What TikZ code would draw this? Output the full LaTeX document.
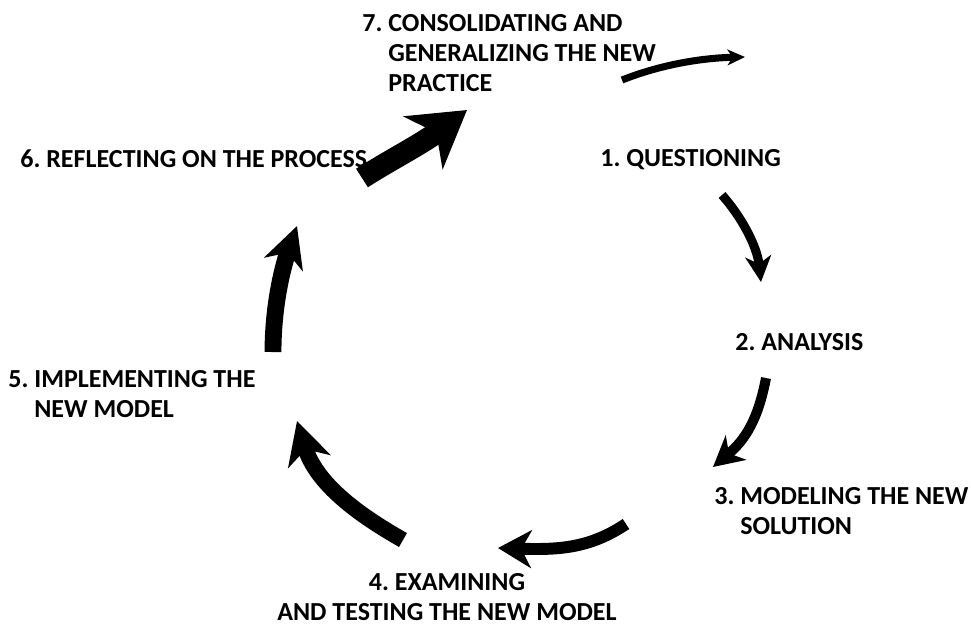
\documentclass[tikz,border=0pt]{standalone}
\usepackage{fontspec}
\setmainfont{Carlito}
\frenchspacing
\usetikzlibrary{arrows.meta}
\tikzset{
  step label/.style={anchor=base west, inner sep=0pt, align=left,
    font=\fontsize{14.8}{17}\selectfont\bfseries},
  cyc arrow/.style n args={3}{line width=#1,
    -{Stealth[length=#2,width=#3,inset=0.3*#2]}}
}
\begin{document}
\begin{tikzpicture}[x=0.02cm,y=-0.02cm]
    \useasboundingbox (0,0) rectangle (971,627);
    % steps of the cycle (base is the last line)
    \node[step label] (s7) at (362,91) {7. CONSOLIDATING AND\\\phantom{7. }GENERALIZING THE NEW\\\phantom{7. }PRACTICE};
    \node[step label] (s1) at (600,166) {1. QUESTIONING};
    \node[step label] (s2) at (735,350) {2. ANALYSIS};
    \node[step label] (s3) at (714,534) {3. MODELING THE NEW\\\phantom{3. }SOLUTION};
    \node[step label, align=center, anchor=base] (s4) at (447,620) {4. EXAMINING\\AND TESTING THE NEW MODEL};
    \node[step label] (s5) at (8,417) {5. IMPLEMENTING THE\\\phantom{5. }NEW MODEL};
    \node[step label] (s6) at (20,167) {6. REFLECTING ON THE PROCESS};
    % arrow ends
    \coordinate (a1) at (722,195);  \coordinate (b1) at (761,282);
    \coordinate (a2) at (766,378);  \coordinate (b2) at (713,467);
    \coordinate (a3) at (626,524);  \coordinate (b3) at (498,548);
    \coordinate (a4) at (403,540);  \coordinate (b4) at (297,421);
    \coordinate (a5) at (273,352);  \coordinate (b5) at (297,226);
    \coordinate (a6) at (362,178);  \coordinate (b6) at (467,110);
    \coordinate (a7) at (622,80);   \coordinate (b7) at (745,57);
    % arrows, thicker round the cycle
    \draw[cyc arrow={5.1pt}{14.7pt}{14.7pt}] (a1) .. controls (740,215) and (757,245) .. (b1);
    \draw[cyc arrow={5.7pt}{17pt}{18pt}] (a2) .. controls (758,420) and (745,440) .. (b2);
    \draw[cyc arrow={6.8pt}{19pt}{21.5pt}] (a3) .. controls (590,548) and (560,550) .. (b3);
    \draw[cyc arrow={9.1pt}{24pt}{25pt}] (a4) .. controls (350,510) and (315,480) .. (b4);
    \draw[cyc arrow={9.6pt}{23pt}{23pt}] (a5) .. controls (273,300) and (285,260) .. (b5);
    \draw[cyc arrow={12.5pt}{31pt}{37pt}] (a6) .. controls (390,160) and (420,145) .. (b6);
    % way out
    \draw[cyc arrow={4pt}{10pt}{9pt}] (a7) .. controls (660,65) and (700,58) .. (b7);
\end{tikzpicture}
\end{document}
